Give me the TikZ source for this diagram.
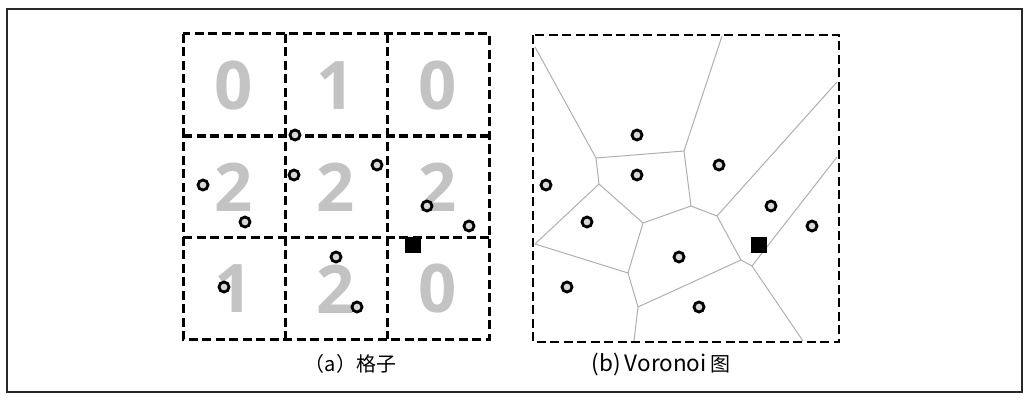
\documentclass[tikz,border=0pt]{standalone}
\usepackage{fontspec}
\setmainfont{Noto Sans CJK SC}
\newfontfamily\digitfont{Open Sans}
\definecolor{digitgray}{RGB}{195,195,195}
\definecolor{edgegray}{RGB}{175,175,175}
\definecolor{framegray}{RGB}{40,40,40}
\begin{document}
\begin{tikzpicture}[x=1pt,y=-1pt,
  outerframe/.style={draw=framegray, line width=1.3pt},
  gridline/.style={line width=3pt, dash pattern=on 9pt off 4.5pt},
  vframe/.style={line width=2.6pt, dash pattern=on 9pt off 4.5pt},
  vedge/.style={draw=edgegray, line width=1pt, line join=round},
  digit/.style={text=digitgray, font=\digitfont\bfseries\fontsize{67}{67}\selectfont, inner sep=0pt},
  pt/.style={circle, draw=black, fill=gray!30, line width=2.8pt, minimum size=10pt, inner sep=0pt},
  sq/.style={fill=black, minimum size=16pt, inner sep=0pt},
  caption/.style={font=\fontsize{20}{20}\selectfont, anchor=base, inner sep=0pt}]
\useasboundingbox (0,0) rectangle (1030,401);
\draw[outerframe] (7,9) rectangle (1022,392);

% ---------- (a) grid ----------
\foreach \c/\r/\d [count=\i] in {0/0/0,1/0/1,2/0/0,0/1/2,1/1/2,2/1/2,0/2/1,1/2/2,2/2/0}{
  \node[digit] (d\i) at ({234+102*\c},{85.5+101.7*\r}) {\d};
}
\draw[gridline] (183,34) rectangle (489,339);
\draw[gridline] (285,34) -- (285,339);
\draw[gridline] (387,34) -- (387,339);
\draw[gridline] (183,136) -- (489,136);
\draw[gridline] (183,237) -- (489,237);

\node[pt] (a1) at (295,135) {};
\node[pt] (a2) at (203,185) {};
\node[pt] (a3) at (245,222) {};
\node[pt] (a4) at (294,175) {};
\node[pt] (a5) at (377,165) {};
\node[pt] (a6) at (427,206) {};
\node[pt] (a7) at (469,226) {};
\node[pt] (a8) at (336,257) {};
\node[pt] (a9) at (224,287) {};
\node[pt] (a10) at (357,307) {};
\node[sq] (aq) at (413,244.5) {};

% ---------- (b) Voronoi ----------
\coordinate (A) at (596,158);
\coordinate (B) at (684,151);
\coordinate (C) at (599,184);
\coordinate (D) at (691,206);
\coordinate (E) at (643,223);
\coordinate (F) at (535,244);
\coordinate (G) at (628,273);
\coordinate (H) at (638,307);
\coordinate (I) at (741,260);
\coordinate (J) at (717,216);
\coordinate (K) at (752,266);
\coordinate (TL) at (535,47);
\coordinate (T) at (722,36);
\coordinate (TR) at (837,82);
\coordinate (R) at (837,157);
\coordinate (BL) at (634,341);
\coordinate (BR) at (803,341);
\draw[vedge] (TL) -- (A) -- (B) -- (T);
\draw[vedge] (A) -- (C) -- (E) -- (D) -- (B);
\draw[vedge] (C) -- (F);
\draw[vedge] (F) -- (G) -- (E);
\draw[vedge] (G) -- (H) -- (BL);
\draw[vedge] (H) -- (I) -- (J) -- (D);
\draw[vedge] (J) -- (TR);
\draw[vedge] (I) -- (K) -- (R);
\draw[vedge] (K) -- (BR);
\draw[vframe] (533,35) rectangle (839,342);

\node[pt] (b1) at (637,135) {};
\node[pt] (b2) at (637,175) {};
\node[pt] (b3) at (546,185) {};
\node[pt] (b4) at (719,165) {};
\node[pt] (b5) at (587,222) {};
\node[pt] (b6) at (771,206) {};
\node[pt] (b7) at (812,226) {};
\node[pt] (b8) at (679,257) {};
\node[pt] (b9) at (567,287) {};
\node[pt] (b10) at (699,307) {};
\node[sq] (bq) at (759,245) {};

% ---------- captions ----------
\node[caption] (capa) at (350.5,371) {（a）格子};
\node[caption] (capb) at (661,371) {{\fontsize{22.5}{22.5}\selectfont (b)\,Voronoi}\,图};
\end{tikzpicture}
\end{document}
